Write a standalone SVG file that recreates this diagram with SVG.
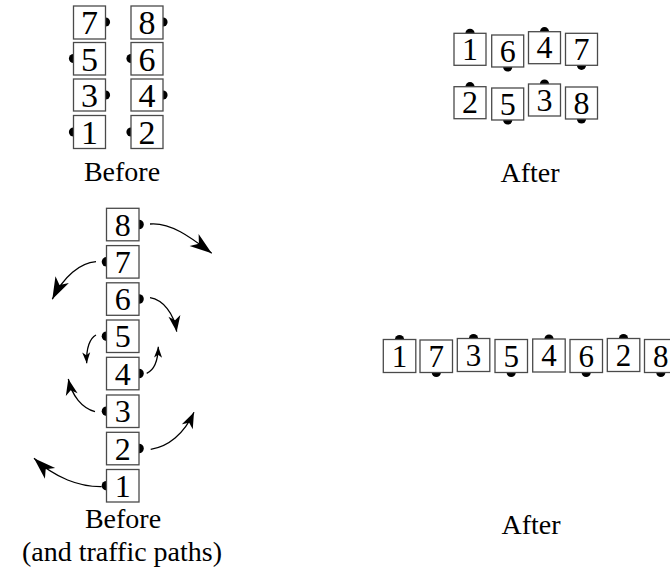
<svg xmlns="http://www.w3.org/2000/svg" width="670" height="571" viewBox="0 0 670 571" font-family="Liberation Serif, Times New Roman, Times, Nimbus Roman, Noto Serif, DejaVu Serif, FreeSerif, serif">
<style>
  .box { fill: #fff; stroke: #4a4a4a; stroke-width: 1.3; }
  .dot { fill: #000; }
  .d { font-family: "Liberation Serif", "Times New Roman", Times, "Nimbus Roman", "Nimbus Roman No9 L", "Noto Serif", "DejaVu Serif", FreeSerif, serif; text-anchor: middle; fill: #000; }
  .tl { font-size: 34px; }
  .tr { font-size: 32px; }
  .bl { font-size: 32px; }
  .br { font-size: 31px; }
  .lbl { font-family: "Liberation Serif", "Times New Roman", Times, "Nimbus Roman", "Nimbus Roman No9 L", "Noto Serif", "DejaVu Serif", FreeSerif, serif; font-size: 28px; text-anchor: middle; fill: #000; }
  .arr { fill: none; stroke: #000; stroke-width: 1.3; }
</style>
<defs>
  <marker id="ahL" viewBox="-24 -9 26 18" refX="0" refY="0" markerWidth="26" markerHeight="18" markerUnits="userSpaceOnUse" orient="auto">
    <path d="M0,0 L-22,-7.5 L-16,0 L-22,7.5 Z" fill="#000"/>
  </marker>
  <marker id="ahM" viewBox="-18 -7 20 14" refX="0" refY="0" markerWidth="20" markerHeight="14" markerUnits="userSpaceOnUse" orient="auto">
    <path d="M0,0 L-16,-6 L-11.5,0 L-16,6 Z" fill="#000"/>
  </marker>
  <marker id="ahS" viewBox="-12 -5 14 10" refX="0" refY="0" markerWidth="14" markerHeight="10" markerUnits="userSpaceOnUse" orient="auto">
    <path d="M0,0 L-11,-4 L-8,0 L-11,4 Z" fill="#000"/>
  </marker>
</defs>

<!-- Top-left: Before -->
<g id="tl-7"><circle class="dot" cx="105.5" cy="22" r="4.6"/><rect class="box" x="73.5" y="6" width="32" height="33"/><text class="d tl" x="89.5" y="34">7</text></g>
<g id="tl-8"><circle class="dot" cx="163" cy="22" r="4.6"/><rect class="box" x="131" y="6" width="32" height="33"/><text class="d tl" x="147" y="34">8</text></g>
<g id="tl-5"><circle class="dot" cx="73.5" cy="58.5" r="4.6"/><rect class="box" x="73.5" y="42.5" width="32" height="32.5"/><text class="d tl" x="89.5" y="70.5">5</text></g>
<g id="tl-6"><circle class="dot" cx="131" cy="58.5" r="4.6"/><rect class="box" x="131" y="42.5" width="32" height="32.5"/><text class="d tl" x="147" y="70.5">6</text></g>
<g id="tl-3"><circle class="dot" cx="105.5" cy="95" r="4.6"/><rect class="box" x="73.5" y="79" width="32" height="32"/><text class="d tl" x="89.5" y="107">3</text></g>
<g id="tl-4"><circle class="dot" cx="163" cy="95" r="4.6"/><rect class="box" x="131" y="79" width="32" height="32"/><text class="d tl" x="147" y="107">4</text></g>
<g id="tl-1"><circle class="dot" cx="73.5" cy="132" r="4.6"/><rect class="box" x="73.5" y="115.5" width="32" height="33"/><text class="d tl" x="89.5" y="144">1</text></g>
<g id="tl-2"><circle class="dot" cx="131" cy="132" r="4.6"/><rect class="box" x="131" y="115.5" width="32" height="33"/><text class="d tl" x="147" y="144">2</text></g>
<text class="lbl" x="122" y="181">Before</text>

<!-- Top-right: After -->
<g id="tr-1"><circle class="dot" cx="470" cy="33.3" r="4.6"/><rect class="box" x="454" y="33.3" width="32" height="32"/><text class="d tr" x="470" y="60">1</text></g>
<g id="tr-6"><circle class="dot" cx="507.7" cy="67" r="4.6"/><rect class="box" x="491.7" y="35" width="32" height="32"/><text class="d tr" x="507.7" y="61.7">6</text></g>
<g id="tr-4"><circle class="dot" cx="544.5" cy="31.7" r="4.6"/><rect class="box" x="528.5" y="31.7" width="32" height="32"/><text class="d tr" x="544.5" y="58.4">4</text></g>
<g id="tr-7"><circle class="dot" cx="581.5" cy="65.3" r="4.6"/><rect class="box" x="565.5" y="33.3" width="32" height="32"/><text class="d tr" x="581.5" y="60">7</text></g>
<g id="tr-2"><circle class="dot" cx="470" cy="86.7" r="4.6"/><rect class="box" x="454" y="86.7" width="32" height="32"/><text class="d tr" x="470" y="113.4">2</text></g>
<g id="tr-5"><circle class="dot" cx="507.7" cy="120" r="4.6"/><rect class="box" x="491.7" y="88" width="32" height="32"/><text class="d tr" x="507.7" y="114.7">5</text></g>
<g id="tr-3"><circle class="dot" cx="544.5" cy="84" r="4.6"/><rect class="box" x="528.5" y="84" width="32" height="32"/><text class="d tr" x="544.5" y="110.7">3</text></g>
<g id="tr-8"><circle class="dot" cx="581.5" cy="119" r="4.6"/><rect class="box" x="565.5" y="87" width="32" height="32"/><text class="d tr" x="581.5" y="113.7">8</text></g>
<text class="lbl" x="530" y="182">After</text>

<!-- Bottom-left: Before (and traffic paths) -->
<g id="bl-8"><circle class="dot" cx="139" cy="224.5" r="4.8"/><rect class="box" x="106.5" y="208.3" width="32.5" height="32.5"/><text class="d bl" x="122.7" y="235.5">8</text></g>
<g id="bl-7"><circle class="dot" cx="106.5" cy="261.8" r="4.8"/><rect class="box" x="106.5" y="245.6" width="32.5" height="32.5"/><text class="d bl" x="122.7" y="272.8">7</text></g>
<g id="bl-6"><circle class="dot" cx="139" cy="299" r="4.8"/><rect class="box" x="106.5" y="282.8" width="32.5" height="32.5"/><text class="d bl" x="122.7" y="310">6</text></g>
<g id="bl-5"><circle class="dot" cx="106.5" cy="336.2" r="4.8"/><rect class="box" x="106.5" y="320" width="32.5" height="32.5"/><text class="d bl" x="122.7" y="347.2">5</text></g>
<g id="bl-4"><circle class="dot" cx="139" cy="373.5" r="4.8"/><rect class="box" x="106.5" y="357.3" width="32.5" height="32.5"/><text class="d bl" x="122.7" y="384.5">4</text></g>
<g id="bl-3"><circle class="dot" cx="106.5" cy="411.2" r="4.8"/><rect class="box" x="106.5" y="395" width="32.5" height="32.5"/><text class="d bl" x="122.7" y="422.2">3</text></g>
<g id="bl-2"><circle class="dot" cx="139" cy="448.5" r="4.8"/><rect class="box" x="106.5" y="432.3" width="32.5" height="32.5"/><text class="d bl" x="122.7" y="459.5">2</text></g>
<g id="bl-1"><circle class="dot" cx="106.5" cy="485.7" r="4.8"/><rect class="box" x="106.5" y="469.5" width="32.5" height="32.5"/><text class="d bl" x="122.7" y="496.7">1</text></g>
<text class="lbl" x="123" y="528">Before</text>
<text class="lbl" x="122" y="561">(and traffic paths)</text>

<!-- Bottom-right: After -->
<g id="br-1"><circle class="dot" cx="399.5" cy="339.5" r="4.6"/><rect class="box" x="383.3" y="339.5" width="32.5" height="33"/><text class="d br" x="399.5" y="366.5">1</text></g>
<g id="br-7"><circle class="dot" cx="436.3" cy="372.5" r="4.6"/><rect class="box" x="420" y="340" width="32.5" height="32.5"/><text class="d br" x="436.3" y="366.5">7</text></g>
<g id="br-3"><circle class="dot" cx="473.5" cy="338.5" r="4.6"/><rect class="box" x="457.3" y="338.5" width="32.5" height="33"/><text class="d br" x="473.5" y="365.5">3</text></g>
<g id="br-5"><circle class="dot" cx="511.2" cy="372.5" r="4.6"/><rect class="box" x="495" y="339.5" width="32.5" height="33"/><text class="d br" x="511.2" y="366.5">5</text></g>
<g id="br-4"><circle class="dot" cx="549" cy="339" r="4.6"/><rect class="box" x="532.7" y="339" width="32.5" height="33"/><text class="d br" x="549" y="366">4</text></g>
<g id="br-6"><circle class="dot" cx="586.2" cy="372.5" r="4.6"/><rect class="box" x="570" y="339.5" width="32.5" height="33"/><text class="d br" x="586.2" y="366.5">6</text></g>
<g id="br-2"><circle class="dot" cx="623.5" cy="338.5" r="4.6"/><rect class="box" x="607.3" y="338.5" width="32.5" height="33"/><text class="d br" x="623.5" y="365.5">2</text></g>
<g id="br-8"><circle class="dot" cx="660.8" cy="372.5" r="4.6"/><rect class="box" x="644.5" y="339.5" width="32.5" height="33"/><text class="d br" x="660.8" y="366.5">8</text></g>
<text class="lbl" x="531" y="533.5">After</text>

<!-- Connectors: traffic paths -->
<g id="connectors">
  <path class="arr" d="M150,224 C172,222 194,240 211.7,253.3" marker-end="url(#ahL)"/>
  <path class="arr" d="M96,261.7 C80,263 64,276 52.3,299.3" marker-end="url(#ahL)"/>
  <path class="arr" d="M150,297.7 C163,300 174,313 176.7,331.7" marker-end="url(#ahM)"/>
  <path class="arr" d="M96,335 C90,338 86,348 86.7,363.3" marker-end="url(#ahS)"/>
  <path class="arr" d="M146.7,373.3 C154,370 158,360 158.3,346.7" marker-end="url(#ahS)"/>
  <path class="arr" d="M95,411.7 C82,408 72,396 68.3,379" marker-end="url(#ahM)"/>
  <path class="arr" d="M150.7,449.3 C168,447 184,434 194,412.3" marker-end="url(#ahM)"/>
  <path class="arr" d="M101.7,486.7 C80,487 55,478 34,458.3" marker-end="url(#ahL)"/>
</g>
</svg>
